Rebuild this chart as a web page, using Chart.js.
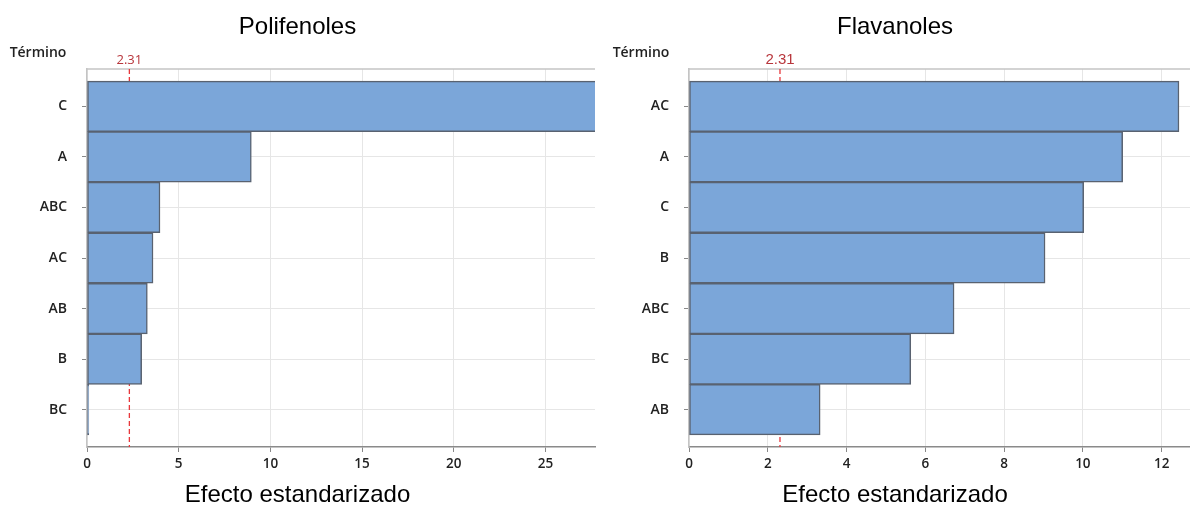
<!DOCTYPE html>
<html>
<head>
<meta charset="utf-8">
<script src="https://cdn.jsdelivr.net/npm/chart.js@4"></script>
<style>
  html, body { margin: 0; padding: 0; background: #fff; }
  .wrap { display: flex; width: 1190px; height: 507px; }
  .box { position: relative; height: 507px; }
</style>
</head>
<body>
<div class="wrap">
  <div class="box" style="width:600px"><canvas id="chartPoli"></canvas></div>
  <div class="box" style="width:590px"><canvas id="chartFlav"></canvas></div>
</div>
<script>
// Pareto de efectos estandarizados
const termsPoli = ['C', 'A', 'ABC', 'AC', 'AB', 'B', 'BC'];
const effectsPoli = [28.3, 8.96, 3.98, 3.60, 3.29, 2.98, 0.1];
const xTicksPoli = [0, 5, 10, 15, 20, 25];

const termsFlav = ['AC', 'A', 'C', 'B', 'ABC', 'BC', 'AB'];
const effectsFlav = [12.44, 11.01, 10.02, 9.04, 6.73, 5.63, 3.33];
const xTicksFlav = [0, 2, 4, 6, 8, 10, 12];

const critical = 2.31;

const tickFont = "'Open Sans', 'Noto Sans', sans-serif";

// línea de referencia (detrás de las barras) + etiquetas
const refLinePlugin = {
  id: 'refLine',
  beforeDatasetsDraw(chart) {
    const { ctx, chartArea, scales } = chart;
    const x = scales.x.getPixelForValue(critical);
    ctx.save();
    // marco superior
    ctx.strokeStyle = '#c4c4c4';
    ctx.lineWidth = 1.5;
    ctx.beginPath();
    ctx.moveTo(chartArea.left, chartArea.top);
    ctx.lineTo(chartArea.right, chartArea.top);
    ctx.stroke();
    ctx.strokeStyle = '#e8383c';
    ctx.lineWidth = 1.3;
    ctx.setLineDash([5, 3]);
    ctx.beginPath();
    ctx.moveTo(x, chartArea.top);
    ctx.lineTo(x, chartArea.bottom);
    ctx.stroke();
    ctx.restore();
  },
  afterDraw(chart, args, opts) {
    const { ctx, chartArea, scales } = chart;
    const x = scales.x.getPixelForValue(critical);
    ctx.save();
    ctx.fillStyle = '#b8363c';
    ctx.font = opts.critFont;
    ctx.textAlign = 'center';
    ctx.textBaseline = 'bottom';
    ctx.fillText(critical.toFixed(2), x, chartArea.top - 2);
    ctx.fillStyle = '#222';
    ctx.font = "600 14px " + tickFont;
    ctx.textBaseline = 'middle';
    ctx.fillText('Término', opts.termX, 53);
    ctx.restore();
  }
};

function makePareto(id, title, terms, effects, xTicks, xMax, yWidth, rightPad, termX, critFont) {
  const n = terms.length;
  new Chart(document.getElementById(id), {
    type: 'bar',
    data: {
      datasets: [{
        data: effects.map((v, i) => ({ x: v, y: i })),
        backgroundColor: '#7ba6d9',
        borderColor: '#596270',
        borderWidth: 1.5,
        borderSkipped: false,
        barPercentage: 1,
        categoryPercentage: 1
      }]
    },
    options: {
      indexAxis: 'y',
      responsive: true,
      maintainAspectRatio: false,
      animation: false,
      layout: { padding: { left: 0, right: rightPad, top: 0, bottom: 0 } },
      plugins: {
        legend: { display: false },
        tooltip: { enabled: false },
        title: {
          display: true,
          text: title,
          color: '#000',
          font: { family: "'Liberation Sans', Arial, sans-serif", size: 24, weight: 'normal', lineHeight: 1.2 },
          padding: { top: 13, bottom: 27.2 }
        },
        subtitle: {
          display: true,
          position: 'bottom',
          text: 'Efecto estandarizado',
          color: '#000',
          font: { family: "'Liberation Sans', Arial, sans-serif", size: 24, weight: 'normal', lineHeight: 1 },
          padding: { top: 6, bottom: 0 }
        },
        refLine: { termX, critFont }
      },
      scales: {
        x: {
          type: 'linear',
          min: 0,
          max: xMax,
          afterBuildTicks: s => { s.ticks = xTicks.map(v => ({ value: v })); },
          afterFit: s => { s.height = 30; },
          grid: { color: '#e6e6e6', tickColor: '#888', tickLength: 5 },
          border: { color: '#8a8a8a', width: 1.5 },
          ticks: { color: '#222', padding: 4, font: { family: tickFont, size: 13.5, weight: '600' } }
        },
        y: {
          type: 'linear',
          reverse: true,
          offset: false,
          min: -0.74,
          max: n - 1 + 0.74,
          afterBuildTicks: s => { s.ticks = terms.map((t, i) => ({ value: i })); },
          afterFit: s => { s.width = yWidth; },
          grid: { offset: false, color: '#e6e6e6', tickColor: '#888', tickLength: 5 },
          border: { color: '#c4c4c4', width: 1.5 },
          ticks: {
            color: '#222',
            padding: 15,
            font: { family: tickFont, size: 14, weight: '600' },
            callback: v => terms[v]
          }
        }
      }
    },
    plugins: [refLinePlugin]
  });
}

makePareto('chartPoli', 'Polifenoles', termsPoli, effectsPoli, xTicksPoli, 27.7, 87, 5, 38, "13px " + tickFont);
makePareto('chartFlav', 'Flavanoles', termsFlav, effectsFlav, xTicksFlav, 12.72, 89, 0, 41, "15px 'Liberation Sans', Arial, sans-serif");
</script>
</body>
</html>
